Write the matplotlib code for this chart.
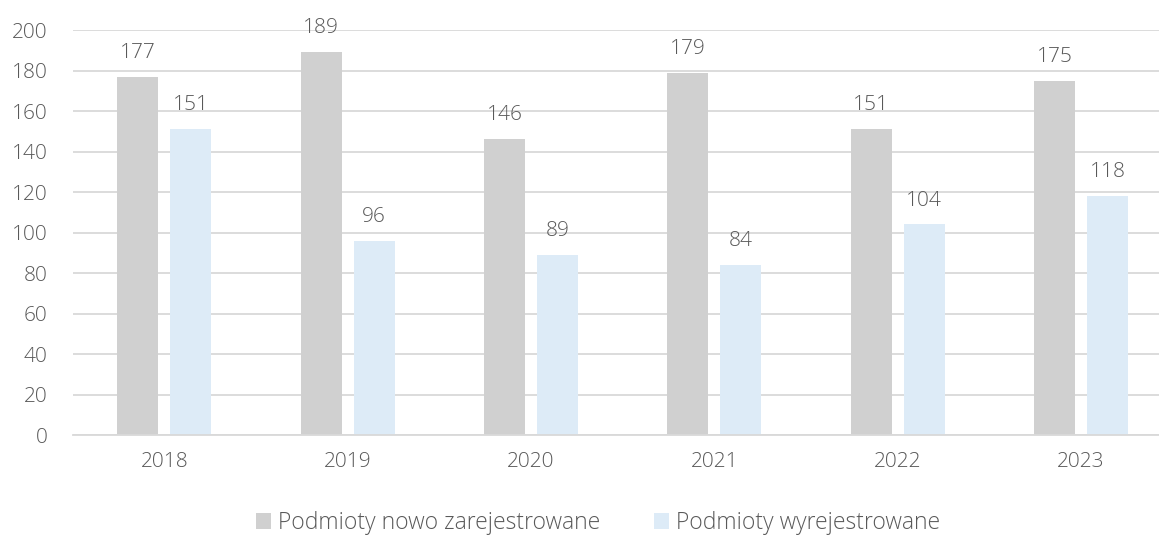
import numpy as np
import matplotlib.pyplot as plt

years = ["2018", "2019", "2020", "2021", "2022", "2023"]
registered = [177, 189, 146, 179, 151, 175]
deregistered = [151, 96, 89, 84, 104, 118]

GRAY = "#D0D0D0"
BLUE = "#DDEBF7"
TEXT = "#595959"

plt.rcParams['font.family'] = ['Open Sans', 'DejaVu Sans']
plt.rcParams['font.weight'] = 'light'

fig = plt.figure(figsize=(11.59, 5.36), dpi=100)
# plot area runs a little past the right edge, like the source image
ax = fig.add_axes([0.0628, 0.1884, 0.949, 0.7556])

x = np.arange(len(years))
w = 0.2236
off = (w + 0.065) / 2
b1 = ax.bar(x - off, registered, w, color=GRAY, label="Podmioty nowo zarejestrowane", zorder=2)
b2 = ax.bar(x + off, deregistered, w, color=BLUE, label="Podmioty wyrejestrowane", zorder=2)

for bars in (b1, b2):
    ax.bar_label(bars, padding=10, fontsize=15, color=TEXT, fontweight='light')

ax.set_xlim(-0.5, len(years) - 0.5)
ax.set_ylim(0, 200)
ax.set_yticks(range(0, 201, 20))
ax.set_xticks(x)
ax.set_xticklabels(years)
ax.yaxis.grid(True, color="#D9D9D9", linewidth=1.3, zorder=0)
ax.set_axisbelow(True)
for s in ["top", "right", "left"]:
    ax.spines[s].set_visible(False)
ax.spines["bottom"].set_color("#D9D9D9")
ax.spines["bottom"].set_linewidth(1.3)
ax.tick_params(axis="both", length=0, labelsize=15, labelcolor=TEXT)
ax.tick_params(axis="x", pad=12)
ax.tick_params(axis="y", pad=18)

fig.legend(loc="center", bbox_to_anchor=(0.516, 0.024), ncol=2, frameon=False,
           fontsize=16.5, labelcolor=TEXT, handlelength=0.65, handleheight=0.65,
           handletextpad=0.3, columnspacing=2.35)

fig.savefig("out.png", dpi=100)
